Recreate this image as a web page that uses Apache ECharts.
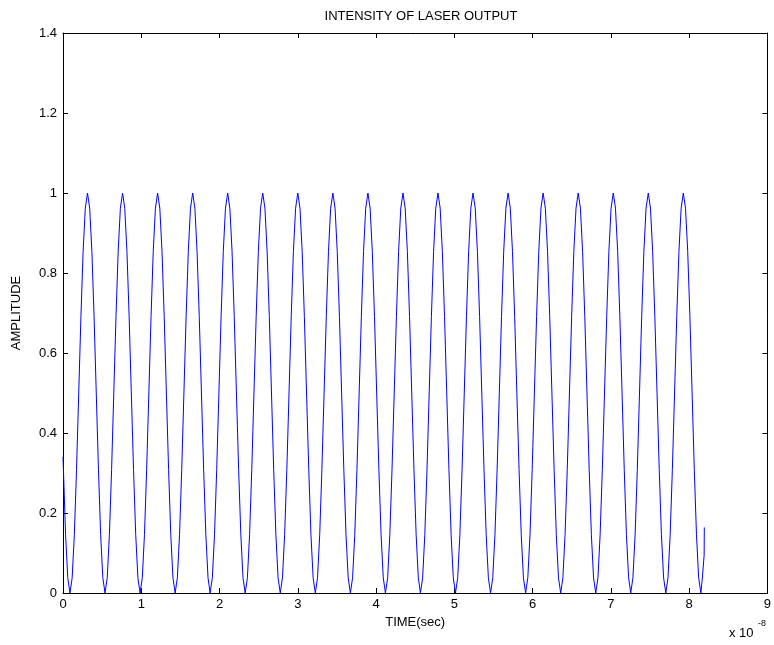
<!DOCTYPE html>
<html>
<head>
<meta charset="utf-8">
<script src="https://cdn.jsdelivr.net/npm/echarts@6/dist/echarts.min.js"></script>
<style>
html,body{margin:0;padding:0;background:#fff;}
#chart{width:774px;height:645px;}
</style>
</head>
<body>
<div id="chart"></div>
<script>
// Time samples (units of 1e-8 s), one row per pulse cycle
var time = [
  0.000, 0.033, 0.061,
  0.089, 0.117, 0.145, 0.173, 0.201, 0.229, 0.257, 0.285, 0.313, 0.341, 0.369, 0.397, 0.425, 0.453, 0.481, 0.509,
  0.537, 0.565, 0.593, 0.621, 0.649, 0.677, 0.705, 0.733, 0.761, 0.789, 0.817, 0.845, 0.873, 0.901, 0.929, 0.957,
  0.985, 1.013, 1.041, 1.069, 1.097, 1.125, 1.153, 1.181, 1.209, 1.237, 1.265, 1.293, 1.321, 1.349, 1.377, 1.405,
  1.433, 1.461, 1.489, 1.517, 1.545, 1.573, 1.601, 1.629, 1.657, 1.685, 1.713, 1.741, 1.769, 1.797, 1.825, 1.853,
  1.880, 1.908, 1.936, 1.964, 1.992, 2.020, 2.048, 2.076, 2.104, 2.132, 2.160, 2.188, 2.216, 2.244, 2.272, 2.300,
  2.328, 2.356, 2.384, 2.412, 2.440, 2.468, 2.496, 2.524, 2.552, 2.580, 2.608, 2.636, 2.664, 2.692, 2.720, 2.748,
  2.776, 2.804, 2.832, 2.860, 2.888, 2.916, 2.944, 2.972, 3.000, 3.028, 3.056, 3.084, 3.112, 3.140, 3.168, 3.196,
  3.224, 3.252, 3.280, 3.308, 3.336, 3.364, 3.392, 3.420, 3.448, 3.476, 3.504, 3.532, 3.560, 3.588, 3.616, 3.644,
  3.672, 3.700, 3.728, 3.756, 3.784, 3.812, 3.840, 3.868, 3.896, 3.924, 3.952, 3.980, 4.008, 4.036, 4.064, 4.092,
  4.120, 4.148, 4.176, 4.204, 4.232, 4.260, 4.288, 4.316, 4.344, 4.372, 4.400, 4.428, 4.456, 4.484, 4.512, 4.540,
  4.567, 4.595, 4.623, 4.651, 4.679, 4.707, 4.735, 4.763, 4.791, 4.819, 4.847, 4.875, 4.903, 4.931, 4.959, 4.987,
  5.015, 5.043, 5.071, 5.099, 5.127, 5.155, 5.183, 5.211, 5.239, 5.267, 5.295, 5.323, 5.351, 5.379, 5.407, 5.435,
  5.463, 5.491, 5.519, 5.547, 5.575, 5.603, 5.631, 5.659, 5.687, 5.715, 5.743, 5.771, 5.799, 5.827, 5.855, 5.883,
  5.911, 5.939, 5.967, 5.995, 6.023, 6.051, 6.079, 6.107, 6.135, 6.163, 6.191, 6.219, 6.247, 6.275, 6.303, 6.331,
  6.359, 6.387, 6.415, 6.443, 6.471, 6.499, 6.527, 6.555, 6.583, 6.611, 6.639, 6.667, 6.695, 6.723, 6.751, 6.779,
  6.807, 6.835, 6.863, 6.891, 6.919, 6.947, 6.975, 7.003, 7.031, 7.059, 7.087, 7.115, 7.143, 7.171, 7.199, 7.227,
  7.254, 7.282, 7.310, 7.338, 7.366, 7.394, 7.422, 7.450, 7.478, 7.506, 7.534, 7.562, 7.590, 7.618, 7.646, 7.674,
  7.702, 7.730, 7.758, 7.786, 7.814, 7.842, 7.870, 7.898, 7.926, 7.954, 7.982, 8.010, 8.038, 8.066, 8.094, 8.122,
  8.150, 8.170, 8.192, 8.194
];

// Amplitude samples matching the time samples above
var amplitude = [
  0.340, 0.146, 0.038,
  0, 0.038, 0.146, 0.309, 0.5, 0.691, 0.854, 0.962, 1, 0.962, 0.854, 0.691, 0.5, 0.309, 0.146, 0.038,
  0, 0.038, 0.146, 0.309, 0.5, 0.691, 0.854, 0.962, 1, 0.962, 0.854, 0.691, 0.5, 0.309, 0.146, 0.038,
  0, 0.038, 0.146, 0.309, 0.5, 0.691, 0.854, 0.962, 1, 0.962, 0.854, 0.691, 0.5, 0.309, 0.146, 0.038,
  0, 0.038, 0.146, 0.309, 0.5, 0.691, 0.854, 0.962, 1, 0.962, 0.854, 0.691, 0.5, 0.309, 0.146, 0.038,
  0, 0.038, 0.146, 0.309, 0.5, 0.691, 0.854, 0.962, 1, 0.962, 0.854, 0.691, 0.5, 0.309, 0.146, 0.038,
  0, 0.038, 0.146, 0.309, 0.5, 0.691, 0.854, 0.962, 1, 0.962, 0.854, 0.691, 0.5, 0.309, 0.146, 0.038,
  0, 0.038, 0.146, 0.309, 0.5, 0.691, 0.854, 0.962, 1, 0.962, 0.854, 0.691, 0.5, 0.309, 0.146, 0.038,
  0, 0.038, 0.146, 0.309, 0.5, 0.691, 0.854, 0.962, 1, 0.962, 0.854, 0.691, 0.5, 0.309, 0.146, 0.038,
  0, 0.038, 0.146, 0.309, 0.5, 0.691, 0.854, 0.962, 1, 0.962, 0.854, 0.691, 0.5, 0.309, 0.146, 0.038,
  0, 0.038, 0.146, 0.309, 0.5, 0.691, 0.854, 0.962, 1, 0.962, 0.854, 0.691, 0.5, 0.309, 0.146, 0.038,
  0, 0.038, 0.146, 0.309, 0.5, 0.691, 0.854, 0.962, 1, 0.962, 0.854, 0.691, 0.5, 0.309, 0.146, 0.038,
  0, 0.038, 0.146, 0.309, 0.5, 0.691, 0.854, 0.962, 1, 0.962, 0.854, 0.691, 0.5, 0.309, 0.146, 0.038,
  0, 0.038, 0.146, 0.309, 0.5, 0.691, 0.854, 0.962, 1, 0.962, 0.854, 0.691, 0.5, 0.309, 0.146, 0.038,
  0, 0.038, 0.146, 0.309, 0.5, 0.691, 0.854, 0.962, 1, 0.962, 0.854, 0.691, 0.5, 0.309, 0.146, 0.038,
  0, 0.038, 0.146, 0.309, 0.5, 0.691, 0.854, 0.962, 1, 0.962, 0.854, 0.691, 0.5, 0.309, 0.146, 0.038,
  0, 0.038, 0.146, 0.309, 0.5, 0.691, 0.854, 0.962, 1, 0.962, 0.854, 0.691, 0.5, 0.309, 0.146, 0.038,
  0, 0.038, 0.146, 0.309, 0.5, 0.691, 0.854, 0.962, 1, 0.962, 0.854, 0.691, 0.5, 0.309, 0.146, 0.038,
  0, 0.038, 0.146, 0.309, 0.5, 0.691, 0.854, 0.962, 1, 0.962, 0.854, 0.691, 0.5, 0.309, 0.146, 0.038,
  0, 0.040, 0.095, 0.164
];

var xTicks = [0, 1, 2, 3, 4, 5, 6, 7, 8, 9];
var yTicks = [0, 0.2, 0.4, 0.6, 0.8, 1, 1.2, 1.4];

var titleText = 'INTENSITY OF LASER OUTPUT';
var xName = 'TIME(sec)';
var yName = 'AMPLITUDE';
var xScaleBase = 'x 10';
var xScaleExp = '-8';

var FONT = '"Liberation Sans", Arial, Helvetica, sans-serif';

var points = [];
for (var i = 0; i < time.length; i++) points.push([time[i], amplitude[i]]);

var chart = echarts.init(document.getElementById('chart'), null, {renderer: 'canvas'});

var axisCommon = {
  type: 'value',
  axisLine: {show: true, onZero: false, lineStyle: {color: '#000', width: 1}},
  axisTick: {show: true, inside: true, length: 5, lineStyle: {color: '#000', width: 1}},
  splitLine: {show: false}
};

chart.setOption({
  animation: false,
  backgroundColor: '#fff',
  title: {
    text: titleText,
    left: 416, top: 5, textAlign: 'center',
    textStyle: {fontFamily: FONT, fontSize: 13, fontWeight: 'normal', color: '#000'}
  },
  grid: {left: 63, right: 3, top: 33, bottom: 52, containLabel: false},
  xAxis: [
    Object.assign({}, axisCommon, {
      position: 'bottom',
      min: xTicks[0], max: xTicks[xTicks.length - 1], interval: 1,
      name: xName, nameLocation: 'middle', nameGap: 20,
      nameTextStyle: {fontFamily: FONT, fontSize: 13, color: '#000'},
      axisLabel: {fontFamily: FONT, fontSize: 13, color: '#000', margin: 5}
    }),
    Object.assign({}, axisCommon, {
      position: 'top',
      min: xTicks[0], max: xTicks[xTicks.length - 1], interval: 1,
      axisLabel: {show: false}
    })
  ],
  yAxis: [
    Object.assign({}, axisCommon, {
      position: 'left',
      min: yTicks[0], max: yTicks[yTicks.length - 1], interval: 0.2,
      name: yName, nameLocation: 'middle', nameGap: 40, nameRotate: 90,
      nameTextStyle: {fontFamily: FONT, fontSize: 13, color: '#000'},
      axisLabel: {fontFamily: FONT, fontSize: 13, color: '#000', margin: 6}
    }),
    Object.assign({}, axisCommon, {
      position: 'right',
      min: yTicks[0], max: yTicks[yTicks.length - 1], interval: 0.2,
      axisLabel: {show: false}
    })
  ],
  graphic: [
    {type: 'text', left: 729, top: 627,
     style: {text: xScaleBase, font: '13px ' + FONT, fill: '#000'}},
    {type: 'text', left: 758, top: 619,
     style: {text: xScaleExp, font: '9px ' + FONT, fill: '#000'}}
  ],
  series: [{
    type: 'line',
    xAxisIndex: 0, yAxisIndex: 0,
    data: points,
    showSymbol: false,
    symbol: 'none',
    lineStyle: {color: '#0000ff', width: 1},
    clip: true
  }]
});
</script>
</body>
</html>
